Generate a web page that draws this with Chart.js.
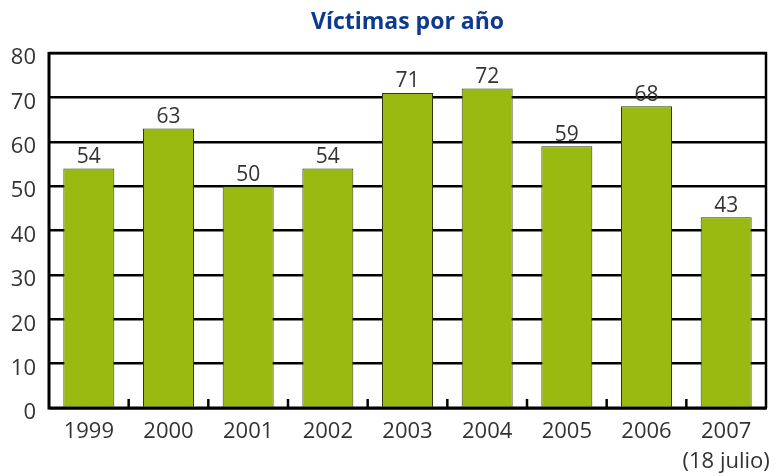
<!DOCTYPE html>
<html>
<head>
<meta charset="utf-8">
<script src="https://cdn.jsdelivr.net/npm/chart.js@4"></script>
<style>
  html, body { margin: 0; padding: 0; background: #fff; }
  #wrap { width: 776px; height: 476px; }
</style>
</head>
<body>
<div id="wrap"><canvas id="victimas"></canvas></div>
<script>
// chart data
const years = ["1999", "2000", "2001", "2002", "2003", "2004", "2005", "2006", ["2007", "(18 julio)"]];
const victims = [54, 63, 50, 54, 71, 72, 59, 68, 43];
const yTicks = [0, 10, 20, 30, 40, 50, 60, 70, 80];
const titleText = "Víctimas por año";

const FONT = "'Open Sans', 'Noto Sans', sans-serif";
const TEXT = "#333";

// border, inner tick marks, value labels, y labels and title
const decorations = {
  id: "decorations",
  beforeDatasetsDraw(chart) {
    const { ctx, chartArea: a, scales: { x } } = chart;
    ctx.save();
    ctx.strokeStyle = "#000";
    ctx.lineWidth = 2.5;
    ctx.beginPath();
    ctx.moveTo(a.left, a.top);
    ctx.lineTo(a.right, a.top);
    ctx.lineTo(a.right, a.bottom);
    ctx.stroke();
    // small ticks between categories
    for (let i = 0; i < years.length - 1; i++) {
      const px = (x.getPixelForValue(i) + x.getPixelForValue(i + 1)) / 2;
      ctx.beginPath();
      ctx.moveTo(px, a.bottom);
      ctx.lineTo(px, a.bottom - 9);
      ctx.stroke();
    }
    ctx.restore();
  },
  afterDatasetsDraw(chart) {
    const { ctx, chartArea: a, scales: { y } } = chart;
    ctx.save();
    // axis lines on top of bars
    ctx.strokeStyle = "#000";
    ctx.lineWidth = 3;
    ctx.beginPath();
    ctx.moveTo(a.left, a.top - 1);
    ctx.lineTo(a.left, a.bottom);
    ctx.lineTo(a.right + 1, a.bottom);
    ctx.stroke();

    ctx.fillStyle = TEXT;
    ctx.font = "21px " + FONT;
    ctx.textAlign = "center";
    ctx.textBaseline = "bottom";
    chart.getDatasetMeta(0).data.forEach((bar, i) => {
      ctx.fillText(String(victims[i]), bar.x, bar.y - 1);
    });

    // y labels sit a little below their grid lines
    ctx.font = "22px " + FONT;
    ctx.textAlign = "right";
    ctx.textBaseline = "middle";
    yTicks.forEach(v => {
      ctx.fillText(String(v), a.left - 13, y.getPixelForValue(v) + 5);
    });

    ctx.fillStyle = "#0d3a8e";
    ctx.font = "bold 23px " + FONT;
    ctx.textAlign = "center";
    ctx.fillText(titleText, (a.left + a.right) / 2, 22);
    ctx.restore();
  }
};

new Chart(document.getElementById("victimas"), {
  type: "bar",
  data: {
    labels: years,
    datasets: [{
      data: victims,
      backgroundColor: "#99bb11",
      borderColor: "#2d3a10",
      borderWidth: 1,
      borderSkipped: "bottom",
      barPercentage: 0.64,
      categoryPercentage: 1.0
    }]
  },
  options: {
    responsive: true,
    maintainAspectRatio: false,
    animation: false,
    layout: { padding: { top: 53, right: 10, left: 0, bottom: 0 } },
    plugins: {
      legend: { display: false },
      title: { display: false },
      tooltip: { enabled: false }
    },
    scales: {
      x: {
        grid: { display: false },
        border: { display: false },
        ticks: {
          color: TEXT,
          font: { family: FONT, size: 22, lineHeight: 1.4 },
          padding: 0,
          maxRotation: 0,
          autoSkip: false
        },
        afterFit(scale) { scale.height = 68; }
      },
      y: {
        min: 0,
        max: 80,
        afterBuildTicks(scale) { scale.ticks = yTicks.map(v => ({ value: v })); },
        grid: { color: "#000", lineWidth: 2.5, drawTicks: false },
        border: { display: false },
        ticks: { display: false },
        afterFit(scale) { scale.width = 49; }
      }
    }
  },
  plugins: [decorations]
});
</script>
</body>
</html>
